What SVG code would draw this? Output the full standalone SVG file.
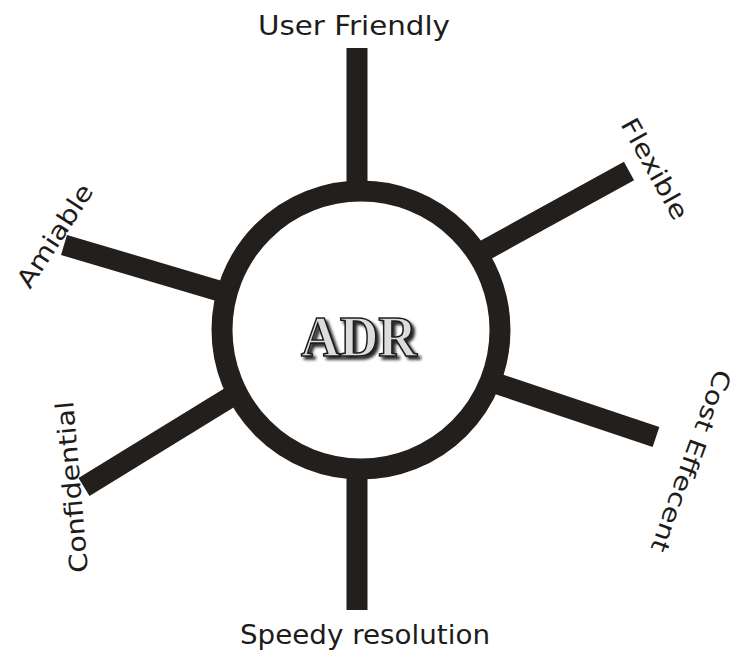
<svg xmlns="http://www.w3.org/2000/svg" width="742" height="652" viewBox="0 0 742 652">
  <defs>
    <style>
      .spoke { stroke: #231f1c; stroke-width: 21; stroke-linecap: butt; fill: none; }
      .ring { stroke: #231f1c; stroke-width: 21; fill: #ffffff; }
      .lbl { font-family: "DejaVu Sans", "Liberation Sans", sans-serif; fill: #1e1c1a; }
      .adr { font-family: "Liberation Serif", "DejaVu Serif", serif; font-weight: bold; font-size: 58px; }
    </style>
    <filter id="shadow" x="-20%" y="-30%" width="140%" height="160%">
      <feGaussianBlur in="SourceAlpha" stdDeviation="1.5" result="b"/>
      <feOffset in="b" dx="3" dy="3" result="o"/>
      <feFlood flood-color="#000000" flood-opacity="0.85"/>
      <feComposite in2="o" operator="in" result="s"/>
      <feMerge><feMergeNode in="s"/><feMergeNode in="SourceGraphic"/></feMerge>
    </filter>
  </defs>
  <rect width="742" height="652" fill="#ffffff"/>
  <g id="connectors">
    <line class="spoke" x1="357" y1="48" x2="357" y2="195"/>
    <line class="spoke" x1="357" y1="466" x2="357" y2="610"/>
    <line class="spoke" x1="629" y1="171" x2="480" y2="253"/>
    <line class="spoke" x1="64" y1="245" x2="226" y2="293"/>
    <line class="spoke" x1="656" y1="437" x2="492" y2="382"/>
    <line class="spoke" x1="84" y1="487" x2="237" y2="393"/>
  </g>
  <g id="hub">
    <circle class="ring" cx="361" cy="330" r="139"/>
    <text class="adr" x="359" y="356" text-anchor="middle" textLength="116" lengthAdjust="spacingAndGlyphs" fill="#dcdcdc" stroke="#1a1a1a" stroke-width="1.6" filter="url(#shadow)">ADR</text>
  </g>
  <g id="user-friendly">
    <text class="lbl" x="354" y="35" font-size="27" text-anchor="middle" textLength="192" lengthAdjust="spacingAndGlyphs">User Friendly</text>
  </g>
  <g id="speedy-resolution">
    <text class="lbl" x="365" y="644" font-size="26" text-anchor="middle" textLength="250" lengthAdjust="spacingAndGlyphs">Speedy resolution</text>
  </g>
  <g id="flexible">
    <text class="lbl" font-size="25" transform="translate(620,124) rotate(61)" textLength="112" lengthAdjust="spacingAndGlyphs">Flexible</text>
  </g>
  <g id="cost-effecent">
    <text class="lbl" font-size="24" transform="translate(716,368) rotate(110)" textLength="192" lengthAdjust="spacingAndGlyphs">Cost Effecent</text>
  </g>
  <g id="amiable">
    <text class="lbl" font-size="25" transform="translate(30,290) rotate(-57)" textLength="118" lengthAdjust="spacingAndGlyphs">Amiable</text>
  </g>
  <g id="confidential">
    <text class="lbl" font-size="25" transform="translate(88,572) rotate(-95)" textLength="172" lengthAdjust="spacingAndGlyphs">Confidential</text>
  </g>
</svg>
